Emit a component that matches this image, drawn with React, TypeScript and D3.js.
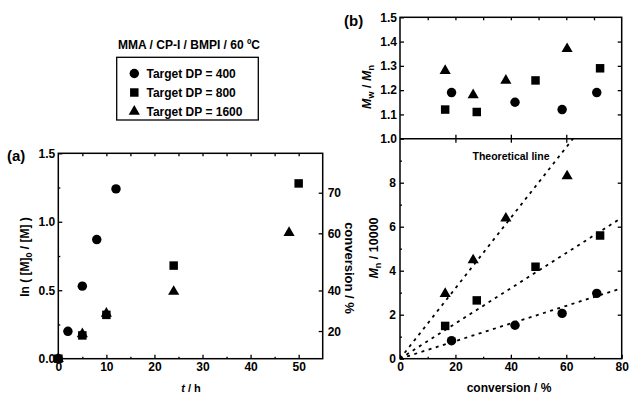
import React, { useEffect, useRef } from "react";
import * as d3 from "d3";

const seriesNames = ["Target DP = 400", "Target DP = 800", "Target DP = 1600"];
const targetDP = [400, 800, 1600];
const monomerMass = 100.12;

// (a) kinetics: time / h vs ln([M]0/[M])
const kinTimeDP400 = [0, 2, 5, 8, 12];
const kinLnDP400 = [0, 0.2, 0.53, 0.87, 1.24];
const kinTimeDP800 = [0, 5, 10, 24, 50];
const kinLnDP800 = [0, 0.17, 0.32, 0.68, 1.28];
const kinTimeDP1600 = [0, 5, 10, 24, 48];
const kinLnDP1600 = [0, 0.18, 0.33, 0.49, 0.92];

// (b) conversion / % vs Mn/10000 and Mw/Mn
const convDP400 = [18.6, 41.5, 58.5, 71];
const mnDP400 = [0.82, 1.52, 2.06, 2.97];
const pdiDP400 = [1.19, 1.15, 1.12, 1.19];
const convDP800 = [16.3, 27.7, 48.9, 72.2];
const mnDP800 = [1.49, 2.65, 4.18, 5.6];
const pdiDP800 = [1.12, 1.11, 1.24, 1.29];
const convDP1600 = [16.3, 26.4, 38.2, 60.3];
const mnDP1600 = [2.95, 4.48, 6.38, 8.3];
const pdiDP1600 = [1.28, 1.18, 1.24, 1.37];

const tTicks = [0, 10, 20, 30, 40, 50];
const lnTicks = [0, 0.5, 1.0, 1.5];
const convRightTicks = [20, 40, 60, 70];
const convTicks = [0, 20, 40, 60, 80];
const mnTicks = [0, 2, 4, 6, 8];
const pdiTicks = [1.0, 1.1, 1.2, 1.3, 1.4, 1.5];

const FONT = "'Liberation Sans', Arial, sans-serif";

const App = () => {
  const ref = useRef<SVGSVGElement>(null);

  useEffect(() => {
    const svg = d3.select(ref.current);
    svg.selectAll("*").remove();
    svg.style("font-family", FONT).style("font-weight", "bold");

    const shapes = [d3.symbolCircle, d3.symbolSquare, d3.symbolTriangle];
    const sizes = [70, 72, 54];
    const sym = (i: number) => d3.symbol().type(shapes[i]).size(sizes[i])();

    const styleAxis = (g: any, fs = 12) => {
      g.select(".domain").remove();
      g.selectAll("line").attr("stroke", "#000").attr("stroke-width", 1.3);
      g.selectAll("text").style("font-size", fs + "px").style("font-family", FONT).style("font-weight", "bold").attr("fill", "#000");
    };

    // ---------- panel (a)
    const A = { l: 58.3, r: 322.7, t: 153.3, b: 358.7 };
    const xA = d3.scaleLinear().domain([0, 55]).range([A.l, A.r]);
    const yA = d3.scaleLinear().domain([0, 1.5]).range([A.b, A.t]);
    // right axis: conversion on ln scale, slightly offset as in the original
    const yR = d3.scaleLinear().domain([0, 1.5]).range([363, 151.5]);
    const yConv = (c: number) => yR(-Math.log(1 - c / 100));

    const gA = svg.append("g");

    gA.append("g").attr("transform", `translate(0,${A.b})`)
      .call(d3.axisBottom(xA).tickValues(tTicks).tickSizeInner(-4).tickSizeOuter(0).tickPadding(4))
      .call(styleAxis);
    gA.append("g").attr("transform", `translate(0,${A.b})`)
      .call(d3.axisBottom(xA).tickValues(d3.range(5, 55, 10)).tickSizeInner(-2).tickSizeOuter(0).tickFormat(() => ""))
      .call(styleAxis);
    gA.append("g").attr("transform", `translate(0,${A.t})`)
      .call(d3.axisTop(xA).tickValues(d3.range(5, 55, 5)).tickSizeInner(-3).tickSizeOuter(0).tickFormat(() => ""))
      .call(styleAxis);
    gA.append("g").attr("transform", `translate(${A.l},0)`)
      .call(d3.axisLeft(yA).tickValues(lnTicks).tickSizeInner(-4).tickSizeOuter(0).tickPadding(3).tickFormat(d3.format(".1f")))
      .call(styleAxis);
    gA.append("g").attr("transform", `translate(${A.l},0)`)
      .call(d3.axisLeft(yA).tickValues([0.25, 0.75, 1.25]).tickSizeInner(-2).tickSizeOuter(0).tickFormat(() => ""))
      .call(styleAxis);

    const rAx = gA.append("g");
    convRightTicks.forEach((c) => {
      rAx.append("line").attr("x1", A.r).attr("x2", A.r - 4).attr("y1", yConv(c)).attr("y2", yConv(c))
        .attr("stroke", "#000").attr("stroke-width", 1.3);
      rAx.append("text").attr("x", A.r + 5).attr("y", yConv(c)).attr("dy", "0.35em")
        .style("font-size", "12px").text(c);
    });

    gA.append("rect").attr("x", A.l).attr("y", A.t).attr("width", A.r - A.l).attr("height", A.b - A.t)
      .attr("fill", "none").attr("stroke", "#000").attr("stroke-width", 1.5);

    const kinData = [
      { t: kinTimeDP1600, v: kinLnDP1600, s: 2 },
      { t: kinTimeDP800, v: kinLnDP800, s: 1 },
      { t: kinTimeDP400, v: kinLnDP400, s: 0 },
    ];
    kinData.forEach((k) => {
      gA.selectAll(null).data(k.t).enter().append("path")
        .attr("d", sym(k.s))
        .attr("transform", (d, i) => `translate(${xA(d)},${yA(k.v[i])})`)
        .attr("fill", "#000");
    });

    svg.append("text").attr("x", 7).attr("y", 161).style("font-size", "15px").text("(a)");

    const ylA = svg.append("text").attr("transform", `translate(29,257) rotate(-90)`)
      .attr("text-anchor", "middle").style("font-size", "12px");
    ylA.append("tspan").text("ln ( [M]");
    ylA.append("tspan").attr("dy", 3).style("font-size", "9px").text("0");
    ylA.append("tspan").attr("dy", -3).text(" / [M] )");

    const xlA = svg.append("text").attr("x", 191).attr("y", 391.5).attr("text-anchor", "middle").style("font-size", "11px");
    xlA.append("tspan").style("font-style", "italic").text("t");
    xlA.append("tspan").text(" / h");

    svg.append("text").attr("transform", `translate(345,268) rotate(90)`)
      .attr("text-anchor", "middle").style("font-size", "13px").text("conversion / %");

    // legend
    svg.append("text").attr("x", 189).attr("y", 49).attr("text-anchor", "middle").style("font-size", "12px")
      .text("MMA / CP-I / BMPI / 60 ºC");
    svg.append("rect").attr("x", 116.7).attr("y", 57.3).attr("width", 141.6).attr("height", 62.7)
      .attr("fill", "none").attr("stroke", "#000").attr("stroke-width", 1.3);
    const legY = d3.scalePoint().domain(seriesNames).range([73.5, 111.5]);
    seriesNames.forEach((n, i) => {
      svg.append("path").attr("d", sym(i)).attr("transform", `translate(134.3,${legY(n)})`).attr("fill", "#000");
      svg.append("text").attr("x", 146.5).attr("y", legY(n)!).attr("dy", "0.36em").style("font-size", "12px").text(n);
    });

    // ---------- panel (b)
    const B = { l: 400, r: 621.7, t: 17.3, m: 138.7, b: 358.7 };
    const xB = d3.scaleLinear().domain([0, 80]).range([B.l, B.r]);
    const yBt = d3.scaleLinear().domain([1.0, 1.5]).range([B.m, B.t]);
    const yBb = d3.scaleLinear().domain([0, 10]).range([B.b, B.m]);
    const gB = svg.append("g");

    gB.append("g").attr("transform", `translate(0,${B.b})`)
      .call(d3.axisBottom(xB).tickValues(convTicks).tickSizeInner(-4).tickSizeOuter(0).tickPadding(4))
      .call(styleAxis);
    gB.append("g").attr("transform", `translate(0,${B.b})`)
      .call(d3.axisBottom(xB).tickValues([10, 30, 50, 70]).tickSizeInner(-2).tickSizeOuter(0).tickFormat(() => ""))
      .call(styleAxis);
    gB.append("g").attr("transform", `translate(0,${B.m})`)
      .call(d3.axisTop(xB).tickValues([20, 40, 60]).tickSizeInner(-4).tickSizeOuter(0).tickFormat(() => ""))
      .call(styleAxis);
    gB.append("g").attr("transform", `translate(0,${B.m})`)
      .call(d3.axisBottom(xB).tickValues([20, 40, 60]).tickSizeInner(-4).tickSizeOuter(0).tickFormat(() => ""))
      .call(styleAxis);
    gB.append("g").attr("transform", `translate(0,${B.t})`)
      .call(d3.axisTop(xB).tickValues(d3.range(10, 80, 10)).tickSizeInner(-3).tickSizeOuter(0).tickFormat(() => ""))
      .call(styleAxis);
    gB.append("g").attr("transform", `translate(${B.l},0)`)
      .call(d3.axisLeft(yBb).tickValues(mnTicks).tickSizeInner(-4).tickSizeOuter(0).tickPadding(4))
      .call(styleAxis);
    gB.append("g").attr("transform", `translate(${B.l},0)`)
      .call(d3.axisLeft(yBb).tickValues([1, 3, 5, 7, 9]).tickSizeInner(-2).tickSizeOuter(0).tickFormat(() => ""))
      .call(styleAxis);
    gB.append("g").attr("transform", `translate(${B.r},0)`)
      .call(d3.axisRight(yBb).tickValues(mnTicks.slice(1)).tickSizeInner(-4).tickSizeOuter(0).tickFormat(() => ""))
      .call(styleAxis);
    gB.append("g").attr("transform", `translate(${B.l},0)`)
      .call(d3.axisLeft(yBt).tickValues(pdiTicks).tickSizeInner(-4).tickSizeOuter(0).tickPadding(3).tickFormat(d3.format(".1f")))
      .call(styleAxis);
    gB.append("g").attr("transform", `translate(${B.r},0)`)
      .call(d3.axisRight(yBt).tickValues(pdiTicks.slice(1, 5)).tickSizeInner(-4).tickSizeOuter(0).tickFormat(() => ""))
      .call(styleAxis);

    // theoretical lines: Mn = DP x conversion x M(MMA)
    svg.append("defs").append("clipPath").attr("id", "clipB")
      .append("rect").attr("x", B.l).attr("y", B.m).attr("width", B.r - B.l).attr("height", B.b - B.m);
    targetDP.forEach((dp) => {
      const mnAt = (c: number) => (dp * (c / 100) * monomerMass) / 10000;
      gB.append("path")
        .attr("clip-path", "url(#clipB)")
        .attr("d", d3.line<number>().x((c) => xB(c)).y((c) => yBb(mnAt(c)))([0, 80]))
        .attr("fill", "none").attr("stroke", "#000").attr("stroke-width", 1.8)
        .attr("stroke-dasharray", "3,4.5");
    });

    gB.append("text").attr("x", 511).attr("y", 160).attr("text-anchor", "middle").style("font-size", "10.5px")
      .text("Theoretical line");

    gB.append("rect").attr("x", B.l).attr("y", B.t).attr("width", B.r - B.l).attr("height", B.b - B.t)
      .attr("fill", "none").attr("stroke", "#000").attr("stroke-width", 1.5);
    gB.append("line").attr("x1", B.l).attr("x2", B.r).attr("y1", B.m).attr("y2", B.m)
      .attr("stroke", "#000").attr("stroke-width", 1.5);

    const bData = [
      { c: convDP1600, mn: mnDP1600, p: pdiDP1600, s: 2 },
      { c: convDP800, mn: mnDP800, p: pdiDP800, s: 1 },
      { c: convDP400, mn: mnDP400, p: pdiDP400, s: 0 },
    ];
    bData.forEach((k) => {
      gB.selectAll(null).data(k.c).enter().append("path")
        .attr("d", sym(k.s))
        .attr("transform", (d, i) => `translate(${xB(d)},${yBb(k.mn[i])})`)
        .attr("fill", "#000");
      gB.selectAll(null).data(k.c).enter().append("path")
        .attr("d", sym(k.s))
        .attr("transform", (d, i) => `translate(${xB(d)},${yBt(k.p[i])})`)
        .attr("fill", "#000");
    });

    svg.append("text").attr("x", 344).attr("y", 26).style("font-size", "15px").text("(b)");

    const ylBt = svg.append("text").attr("transform", `translate(371,87) rotate(-90)`)
      .attr("text-anchor", "middle").style("font-size", "12.5px");
    ylBt.append("tspan").style("font-style", "italic").text("M");
    ylBt.append("tspan").attr("dy", 3).style("font-size", "9px").text("w");
    ylBt.append("tspan").attr("dy", -3).text(" / ");
    ylBt.append("tspan").style("font-style", "italic").text("M");
    ylBt.append("tspan").attr("dy", 3).style("font-size", "9px").text("n");

    const ylBb = svg.append("text").attr("transform", `translate(378,248) rotate(-90)`)
      .attr("text-anchor", "middle").style("font-size", "12.5px");
    ylBb.append("tspan").style("font-style", "italic").text("M");
    ylBb.append("tspan").attr("dy", 3).style("font-size", "9px").text("n");
    ylBb.append("tspan").attr("dy", -3).text("  / 10000");

    svg.append("text").attr("x", 509).attr("y", 391.5).attr("text-anchor", "middle").style("font-size", "12px")
      .text("conversion / %");
  }, []);

  return (
    <svg ref={ref} width={631} height={394} style={{ position: "absolute", left: 0, top: 0, background: "#fff" }} />
  );
};

export default App;
